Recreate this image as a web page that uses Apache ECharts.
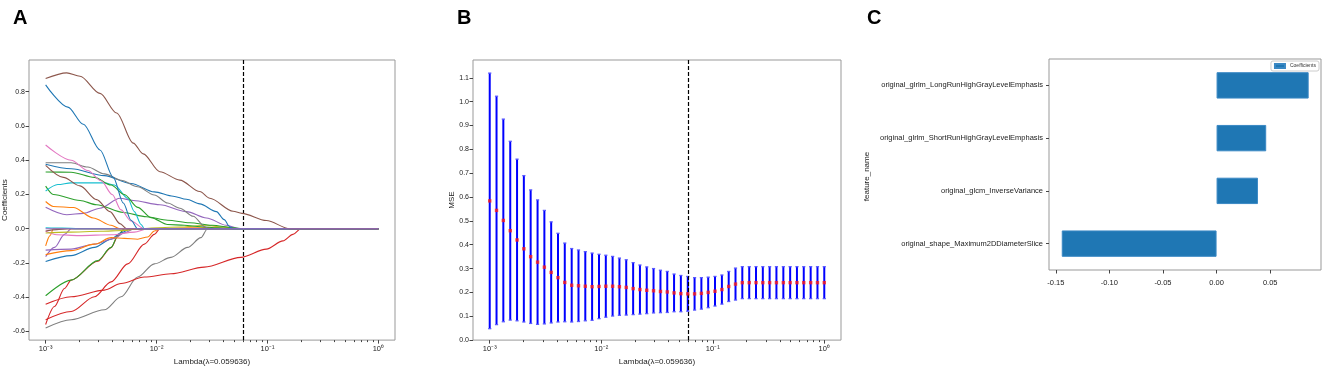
<!DOCTYPE html>
<html>
<head>
<meta charset="utf-8">
<script src="https://cdn.jsdelivr.net/npm/echarts@6.0.0/dist/echarts.min.js"></script>
<style>
html, body { margin: 0; padding: 0; background: #fff; }
#main { width: 1325px; height: 371px; }
</style>
</head>
<body>
<div id="main"></div>
<script>
var chart = echarts.init(document.getElementById('main'));

// lambda grid (log10), 50 values from 1e-3 to 1
var logLambda = [-3.000, -2.939, -2.878, -2.816, -2.755, -2.694, -2.633, -2.571, -2.510, -2.449,
    -2.388, -2.327, -2.265, -2.204, -2.143, -2.082, -2.020, -1.959, -1.898, -1.837,
    -1.776, -1.714, -1.653, -1.592, -1.531, -1.469, -1.408, -1.347, -1.286, -1.224,
    -1.163, -1.102, -1.041, -0.980, -0.918, -0.857, -0.796, -0.735, -0.673, -0.612,
    -0.551, -0.490, -0.429, -0.367, -0.306, -0.245, -0.184, -0.122, -0.061, 0.000];
var bestLogLambda = -1.2245; // lambda = 0.059636

// panel B: cross validated MSE and its spread
var mseMean = [0.584, 0.544, 0.502, 0.459, 0.420, 0.383, 0.350, 0.327, 0.306, 0.284,
    0.262, 0.242, 0.230, 0.228, 0.226, 0.224, 0.225, 0.226, 0.226, 0.224,
    0.221, 0.216, 0.212, 0.209, 0.207, 0.204, 0.202, 0.198, 0.195, 0.194,
    0.194, 0.196, 0.200, 0.205, 0.212, 0.225, 0.235, 0.241, 0.241, 0.241,
    0.241, 0.241, 0.241, 0.241, 0.241, 0.241, 0.241, 0.241, 0.241, 0.241];
var mseStd = [0.536, 0.479, 0.425, 0.375, 0.339, 0.307, 0.280, 0.261, 0.238, 0.212,
    0.186, 0.165, 0.154, 0.150, 0.145, 0.141, 0.135, 0.130, 0.125, 0.120,
    0.116, 0.109, 0.103, 0.098, 0.093, 0.089, 0.086, 0.079, 0.076, 0.073,
    0.068, 0.066, 0.064, 0.062, 0.061, 0.063, 0.067, 0.067, 0.067, 0.067,
    0.067, 0.067, 0.067, 0.067, 0.067, 0.067, 0.067, 0.067, 0.067, 0.067];

// panel A: coefficient paths [log10(lambda), coefficient]
var pathBrown1 = [[-3, 0.877], [-2.81, 0.91], [-2.69, 0.89], [-2.51, 0.79], [-2.36, 0.676], [-2.21, 0.5], [-2.12, 0.437], [-1.97, 0.333], [-1.79, 0.284], [-1.61, 0.217], [-1.52, 0.178], [-1.31, 0.102], [-1.23, 0.09], [-1.01, 0.048], [-0.8, 0], [0, 0]];
var pathBlue1 = [[-3, 0.84], [-2.8, 0.71], [-2.66, 0.61], [-2.51, 0.46], [-2.39, 0.30], [-2.3, 0.15], [-2.23, 0.05], [-2.17, 0], [0, 0]];
var pathPink1 = [[-3, 0.489], [-2.77, 0.40], [-2.62, 0.34], [-2.5, 0.28], [-2.4, 0.2], [-2.32, 0.11], [-2.23, 0.045], [-2.11, 0], [0, 0]];
var pathGray1 = [[-3, 0.385], [-2.77, 0.385], [-2.62, 0.36], [-2.47, 0.32], [-2.32, 0.283], [-2.17, 0.245], [-2.02, 0.197], [-1.9, 0.15], [-1.79, 0.12], [-1.67, 0.073], [-1.56, 0.01], [-1.53, 0], [0, 0]];
var pathBlue2 = [[-3, 0.377], [-2.77, 0.35], [-2.47, 0.31], [-2.23, 0.264], [-2.02, 0.215], [-1.85, 0.19], [-1.73, 0.172], [-1.61, 0.145], [-1.46, 0.10], [-1.39, 0.053], [-1.34, 0.012], [-1.31, 0], [0, 0]];
var pathBrown2 = [[-3, 0.37], [-2.84, 0.30], [-2.69, 0.25], [-2.54, 0.17], [-2.42, 0.10], [-2.33, 0.03], [-2.27, 0], [0, 0]];
var pathGreen1 = [[-3, 0.331], [-2.77, 0.33], [-2.56, 0.30], [-2.41, 0.255], [-2.29, 0.2], [-2.17, 0.125], [-2.05, 0.065], [-1.9, 0.025], [-1.75, 0.02], [-1.6, 0.012], [-1.45, 0.005], [-1.3, 0], [0, 0]];
var pathCyan1 = [[-3, 0.22], [-2.89, 0.258], [-2.77, 0.268], [-2.47, 0.268], [-2.38, 0.255], [-2.26, 0.178], [-2.2, 0.10], [-2.14, 0.025], [-2.11, 0], [0, 0]];
var pathGreen2 = [[-3, 0.249], [-2.93, 0.2], [-2.69, 0.165], [-2.54, 0.14], [-2.3, 0.095], [-2.09, 0.07], [-1.9, 0.05], [-1.7, 0.035], [-1.5, 0.02], [-1.3, 0.006], [-1.22, 0], [0, 0]];
var pathOrange1 = [[-3, 0.159], [-2.93, 0.13], [-2.75, 0.124], [-2.57, 0.063], [-2.41, 0.02], [-2.33, 0], [0, 0]];
var pathPurple1 = [[-3, 0.126], [-2.81, 0.082], [-2.66, 0.09], [-2.51, 0.12], [-2.33, 0.178], [-2.21, 0.165], [-1.97, 0.14], [-1.73, 0.10], [-1.55, 0.063], [-1.37, 0.02], [-1.25, 0], [0, 0]];
var pathCyan2 = [[-3, 0.006], [-2.85, 0.004], [-2.7, 0], [0, 0]];
var pathBrown3 = [[-3, -0.013], [-2.9, -0.005], [-2.8, 0], [0, 0]];
var pathOlive1 = [[-3, -0.025], [-2.8, -0.02], [-2.5, -0.015], [-2.3, -0.01], [-2.17, 0], [-1.8, 0.01], [-1.55, 0.02], [-1.4, 0.01], [-1.25, 0], [0, 0]];
var pathPink2 = [[-3, -0.015], [-2.9, -0.035], [-2.7, -0.04], [-2.4, -0.035], [-2.2, -0.02], [-2.08, 0], [0, 0]];
var pathOrange3 = [[-3, -0.1], [-2.96, -0.04], [-2.93, 0], [0, 0]];
var pathOrange2 = [[-3, -0.151], [-2.77, -0.128], [-2.56, -0.09], [-2.41, -0.052], [-2.29, -0.056], [-2.17, -0.061], [-2.08, -0.048], [-2.02, -0.013], [-1.97, 0], [-1.7, 0.005], [-1.4, 0.01], [-1.25, 0], [0, 0]];
var pathPurple2 = [[-3, -0.163], [-2.92, -0.109], [-2.83, -0.033], [-2.77, 0], [0, 0]];
var pathPurple3 = [[-3, -0.125], [-2.77, -0.119], [-2.56, -0.09], [-2.38, -0.056], [-2.29, -0.023], [-2.2, 0], [0, 0]];
var pathBlue3 = [[-3, -0.191], [-2.77, -0.157], [-2.56, -0.109], [-2.41, -0.061], [-2.32, -0.023], [-2.23, 0], [0, 0]];
var pathGreen3 = [[-3, -0.391], [-2.77, -0.30], [-2.53, -0.186], [-2.41, -0.109], [-2.35, -0.042], [-2.29, 0], [0, 0]];
var pathRed3 = [[-3, -0.559], [-2.92, -0.454], [-2.83, -0.349], [-2.77, -0.30], [-2.53, -0.19], [-2.41, -0.11], [-2.34, -0.033], [-2.29, 0], [0, 0]];
var pathRed2 = [[-3, -0.531], [-2.77, -0.483], [-2.56, -0.397], [-2.41, -0.31], [-2.26, -0.205], [-2.11, -0.09], [-2.02, -0.033], [-1.97, 0], [0, 0]];
var pathRed1 = [[-3, -0.441], [-2.77, -0.397], [-2.47, -0.358], [-2.32, -0.32], [-2.11, -0.282], [-1.87, -0.263], [-1.57, -0.224], [-1.24, -0.167], [-1.01, -0.119], [-0.86, -0.071], [-0.77, -0.033], [-0.7, 0], [0, 0]];
var pathGray2 = [[-3, -0.579], [-2.77, -0.531], [-2.47, -0.473], [-2.32, -0.397], [-2.17, -0.282], [-2.02, -0.205], [-1.87, -0.167], [-1.72, -0.109], [-1.6, -0.052], [-1.54, 0], [0, 0]];
var pathPurple0 = [[-3, 0], [0, 0]];

var paths = [pathGray2, pathRed1, pathRed2, pathRed3, pathGreen3, pathBlue3, pathPurple3, pathPurple2, pathOrange2,
    pathOrange3, pathPink2, pathOlive1, pathBrown3, pathCyan2, pathPurple1, pathOrange1, pathGreen2, pathCyan1,
    pathGreen1, pathBrown2, pathBlue2, pathGray1, pathPink1, pathBlue1, pathBrown1, pathPurple0];
var pathColors = ['#7f7f7f', '#d62728', '#d62728', '#d62728', '#2ca02c', '#1f77b4', '#9467bd', '#9467bd', '#ff7f0e',
    '#ff7f0e', '#e377c2', '#bcbd22', '#8c564b', '#17becf', '#9467bd', '#ff7f0e', '#2ca02c', '#17becf',
    '#2ca02c', '#8c564b', '#1f77b4', '#7f7f7f', '#e377c2', '#1f77b4', '#8c564b', '#9467bd'];

// panel C: selected features
var featureNames = ['original_shape_Maximum2DDiameterSlice', 'original_glcm_InverseVariance',
    'original_glrlm_ShortRunHighGrayLevelEmphasis', 'original_glrlm_LongRunHighGrayLevelEmphasis'];
var featureCoef = [-0.1444, 0.0386, 0.0463, 0.0859];

// tick positions
var logMajor = [-3, -2, -1, 0];
var logMinor = [];
for (var d = -3; d < 0; d++) {
    for (var k = 2; k < 10; k++) logMinor.push(d + Math.log10(k));
}
var coefTicks = [-0.6, -0.4, -0.2, 0, 0.2, 0.4, 0.6, 0.8];
var mseTicks = [0, 0.1, 0.2, 0.3, 0.4, 0.5, 0.6, 0.7, 0.8, 0.9, 1.0, 1.1];
var barTicks = [-0.15, -0.10, -0.05, 0, 0.05];

var powLabels = { '-3': '10\u207B\u00B3', '-2': '10\u207B\u00B2', '-1': '10\u207B\u00B9', '0': '10\u2070' };
var font = 'Liberation Sans';
var tickColor = '#444';
var labelColor = '#222';
var frameColor = '#999';

function logXAxis(gridIndex) {
    return [{
        type: 'value', gridIndex: gridIndex, min: -3.15, max: 0.15, position: 'bottom',
        name: 'Lambda(\u03BB=0.059636)',
        nameLocation: 'middle', nameGap: 13,
        nameTextStyle: { fontFamily: font, fontSize: 8, color: labelColor },
        axisLine: { show: false, onZero: false },
        splitLine: { show: false },
        axisTick: { show: true, length: 3.5, customValues: logMajor, lineStyle: { color: tickColor } },
        axisLabel: {
            customValues: logMajor, margin: 5, fontFamily: font, fontSize: 7.5, color: labelColor,
            formatter: function (v) { return powLabels[String(Math.round(v))]; }
        }
    }, {
        type: 'value', gridIndex: gridIndex, min: -3.15, max: 0.15, position: 'bottom',
        axisLine: { show: false, onZero: false },
        splitLine: { show: false },
        axisTick: { show: true, length: 2, customValues: logMinor, lineStyle: { color: tickColor } },
        axisLabel: { show: false }
    }];
}

var xAxes = logXAxis(0).concat(logXAxis(1));
xAxes.push({
    type: 'value', gridIndex: 2, min: -0.1563, max: 0.0974, position: 'bottom',
    axisLine: { show: false, onZero: false },
    splitLine: { show: false },
    axisTick: { show: true, length: 3.5, customValues: barTicks, lineStyle: { color: tickColor } },
    axisLabel: {
        customValues: barTicks, margin: 9, fontFamily: font, fontSize: 7.5, color: labelColor,
        formatter: function (v) { return v.toFixed(2); }
    }
});

var series = [];
for (var i = 0; i < paths.length; i++) {
    series.push({
        type: 'line', xAxisIndex: 0, yAxisIndex: 0,
        data: paths[i], showSymbol: false, smooth: 0.3, smoothMonotone: 'x',
        lineStyle: { color: pathColors[i], width: 1.1 },
        z: 2 + i
    });
}
series[series.length - 1].markLine = {
    silent: true, symbol: 'none', label: { show: false },
    lineStyle: { color: '#000', type: [4, 2], width: 1.2 },
    data: [{ xAxis: bestLogLambda }]
};

var errData = logLambda.map(function (x, i) {
    return [x, mseMean[i] - mseStd[i], mseMean[i] + mseStd[i]];
});
series.push({
    type: 'custom', xAxisIndex: 2, yAxisIndex: 1,
    data: errData,
    encode: { x: 0, y: [1, 2] },
    renderItem: function (params, api) {
        var x = api.value(0);
        var pLo = api.coord([x, api.value(1)]);
        var pHi = api.coord([x, api.value(2)]);
        var c = 1.6;
        return {
            type: 'group', children: [
                { type: 'line', shape: { x1: pHi[0], y1: pHi[1], x2: pLo[0], y2: pLo[1] }, style: { stroke: '#0000ff', lineWidth: 2 } },
                { type: 'line', shape: { x1: pHi[0] - c, y1: pHi[1], x2: pHi[0] + c, y2: pHi[1] }, style: { stroke: '#5a5aff', lineWidth: 1.3 } },
                { type: 'line', shape: { x1: pLo[0] - c, y1: pLo[1], x2: pLo[0] + c, y2: pLo[1] }, style: { stroke: '#5a5aff', lineWidth: 1.3 } }
            ]
        };
    },
    z: 2,
    markLine: {
        silent: true, symbol: 'none', label: { show: false },
        lineStyle: { color: '#000', type: [4, 2], width: 1.2 },
        data: [{ xAxis: bestLogLambda }]
    }
});
series.push({
    type: 'scatter', xAxisIndex: 2, yAxisIndex: 1,
    data: logLambda.map(function (x, i) { return [x, mseMean[i]]; }),
    symbol: 'rect', symbolSize: 3.4,
    itemStyle: { color: '#ff1a1a' },
    z: 5
});
series.push({
    type: 'bar', name: 'Coefficients', xAxisIndex: 4, yAxisIndex: 2,
    data: featureCoef, barWidth: '50%',
    itemStyle: { color: '#1f77b4', borderColor: '#3a88c4', borderWidth: 1 }
});

var option = {
    animation: false,
    backgroundColor: '#fff',
    title: [
        { text: 'A', left: 8, top: 3, textStyle: { fontFamily: font, fontSize: 20, fontWeight: 'bold', color: '#000' } },
        { text: 'B', left: 452, top: 3, textStyle: { fontFamily: font, fontSize: 20, fontWeight: 'bold', color: '#000' } },
        { text: 'C', left: 862, top: 3, textStyle: { fontFamily: font, fontSize: 20, fontWeight: 'bold', color: '#000' } }
    ],
    legend: {
        data: ['Coefficients'], right: 6, top: 61, orient: 'vertical',
        icon: 'rect', itemWidth: 10, itemHeight: 4, padding: [2, 3],
        borderColor: '#ccc', borderWidth: 1, borderRadius: 2,
        textStyle: { fontFamily: font, fontSize: 5, color: '#333' }
    },
    grid: [
        { left: 29, top: 60, width: 366, height: 284, show: true, borderColor: frameColor, borderWidth: 1 },
        { left: 473, top: 60, width: 368, height: 286, show: true, borderColor: frameColor, borderWidth: 1 },
        { left: 1049, top: 59, width: 272, height: 211, show: true, borderColor: frameColor, borderWidth: 1 }
    ],
    xAxis: xAxes,
    yAxis: [{
        type: 'value', gridIndex: 0, min: -0.65, max: 0.985, position: 'left',
        name: 'Coefficients', nameLocation: 'middle', nameRotate: 90, nameGap: 19,
        nameTextStyle: { fontFamily: font, fontSize: 8, color: labelColor },
        axisLine: { show: false, onZero: false }, splitLine: { show: false },
        axisTick: { show: true, length: 3.5, customValues: coefTicks, lineStyle: { color: tickColor } },
        axisLabel: {
            customValues: coefTicks, margin: 4, fontFamily: font, fontSize: 7, color: labelColor,
            formatter: function (v) { return v.toFixed(1); }
        }
    }, {
        type: 'value', gridIndex: 1, min: 0, max: 1.175, position: 'left',
        name: 'MSE', nameLocation: 'middle', nameRotate: 90, nameGap: 16,
        nameTextStyle: { fontFamily: font, fontSize: 8, color: labelColor },
        axisLine: { show: false, onZero: false }, splitLine: { show: false },
        axisTick: { show: true, length: 3.5, customValues: mseTicks, lineStyle: { color: tickColor } },
        axisLabel: {
            customValues: mseTicks, margin: 4, fontFamily: font, fontSize: 7, color: labelColor,
            formatter: function (v) { return v.toFixed(1); }
        }
    }, {
        type: 'category', gridIndex: 2, data: featureNames, position: 'left',
        name: 'feature_name', nameLocation: 'middle', nameRotate: 90, nameGap: 178,
        nameTextStyle: { fontFamily: font, fontSize: 8, color: labelColor, padding: [0, 24, 0, 0] },
        axisLine: { show: false, onZero: false }, splitLine: { show: false },
        axisTick: { show: true, length: 3, alignWithLabel: true, lineStyle: { color: tickColor } },
        axisLabel: { margin: 6, fontFamily: font, fontSize: 7.5, color: labelColor }
    }],
    series: series
};

chart.setOption(option);
</script>
</body>
</html>
